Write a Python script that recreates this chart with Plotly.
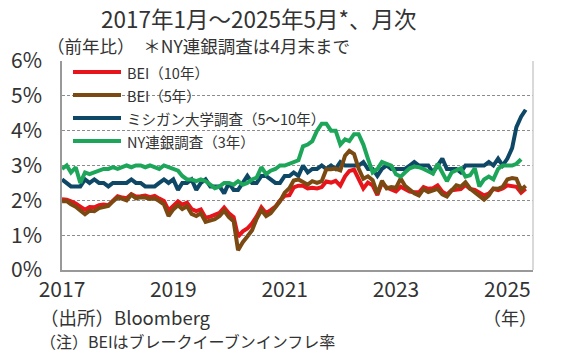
import pandas as pd
import plotly.graph_objects as go

# ---- data (monthly, from Jan 2017) ----
start_month = "2017-01-01"

bei10 = [
    2.03, 2.02, 1.97, 1.91, 1.82, 1.73, 1.81, 1.80, 1.86, 1.88, 1.86, 1.98,
    2.12, 2.08, 2.06, 2.18, 2.11, 2.12, 2.14, 2.09, 2.13, 2.05, 1.98, 1.71,
    1.85, 1.97, 1.88, 1.93, 1.75, 1.69, 1.74, 1.50, 1.53, 1.58, 1.64, 1.79,
    1.63, 1.52, 0.96, 1.11, 1.19, 1.34, 1.54, 1.80, 1.63, 1.72, 1.82, 1.99,
    2.13, 2.15, 2.37, 2.42, 2.42, 2.34, 2.36, 2.34, 2.38, 2.54, 2.51, 2.56,
    2.42, 2.69, 2.84, 2.88, 2.61, 2.34, 2.51, 2.43, 2.15, 2.50, 2.37, 2.30,
    2.26, 2.39, 2.33, 2.25, 2.23, 2.23, 2.38, 2.33, 2.35, 2.43, 2.25, 2.17,
    2.29, 2.31, 2.32, 2.44, 2.33, 2.30, 2.23, 2.14, 2.19, 2.33, 2.29, 2.34,
    2.43, 2.42, 2.39, 2.22, 2.33,
]

bei5 = [
    1.97, 1.98, 1.89, 1.82, 1.71, 1.60, 1.70, 1.69, 1.78, 1.81, 1.84, 1.97,
    2.08, 2.04, 2.00, 2.16, 2.06, 2.09, 2.08, 2.04, 2.06, 1.98, 1.88, 1.55,
    1.74, 1.86, 1.75, 1.83, 1.61, 1.55, 1.63, 1.38, 1.43, 1.46, 1.55, 1.70,
    1.52, 1.40, 0.57, 0.80, 0.96, 1.14, 1.47, 1.72, 1.55, 1.63, 1.80, 1.97,
    2.22, 2.35, 2.57, 2.60, 2.53, 2.45, 2.55, 2.50, 2.55, 2.89, 2.89, 2.91,
    2.86, 3.28, 3.42, 3.33, 2.91, 2.62, 2.69, 2.58, 2.19, 2.56, 2.34, 2.38,
    2.36, 2.63, 2.42, 2.29, 2.20, 2.14, 2.32, 2.24, 2.28, 2.33, 2.17, 2.11,
    2.28, 2.43, 2.39, 2.52, 2.34, 2.23, 2.11, 2.02, 2.14, 2.34, 2.33, 2.39,
    2.60, 2.64, 2.62, 2.30, 2.42,
]

michigan = [
    2.6, 2.5, 2.4, 2.4, 2.4, 2.6, 2.5, 2.6, 2.5, 2.5, 2.4, 2.5,
    2.5, 2.5, 2.5, 2.6, 2.5, 2.5, 2.4, 2.4, 2.4, 2.5, 2.6, 2.5,
    2.6, 2.3, 2.5, 2.5, 2.6, 2.3, 2.5, 2.6, 2.4, 2.4, 2.4, 2.2,
    2.5, 2.3, 2.3, 2.5, 2.7, 2.5, 2.5, 2.7, 2.7, 2.6, 2.5, 2.5,
    2.7, 2.7, 2.8, 2.7, 3.0, 2.8, 2.9, 2.9, 3.0, 2.9, 3.0, 2.9,
    3.1, 3.0, 3.0, 3.0, 3.0, 3.1, 2.9, 2.9, 2.7, 2.9, 3.0, 2.9,
    2.9, 2.9, 2.9, 3.0, 3.1, 3.0, 3.0, 3.0, 2.8, 3.0, 3.2, 2.9,
    2.9, 2.9, 2.8, 3.0, 3.0, 3.0, 3.0, 3.0, 3.1, 3.0, 3.2, 3.0,
    3.2, 3.5, 4.1, 4.4, 4.6,
]

ny_fed = [
    2.9, 3.0, 2.8, 2.95, 2.5, 2.8, 2.75, 2.8, 2.85, 2.9, 2.9, 2.95,
    2.9, 2.95, 3.0, 2.95, 3.0, 3.0, 2.95, 3.0, 2.95, 2.9, 3.0, 2.95,
    2.9, 2.85, 2.7, 2.6, 2.6, 2.55, 2.6, 2.55, 2.45, 2.35, 2.4, 2.5,
    2.5, 2.45, 2.55, 2.45, 2.5, 2.6, 2.65, 2.95, 2.75, 2.85, 2.9, 3.0,
    3.0, 3.05, 3.1, 3.15, 3.55, 3.6, 3.7, 4.0, 4.2, 4.2, 4.0, 4.0,
    3.6, 3.75, 3.7, 3.9, 3.9, 3.6, 3.2, 2.8, 2.9, 3.1, 3.05, 3.0,
    2.75, 2.68, 2.8, 2.92, 2.97, 2.95, 2.9, 2.85, 2.77, 3.05, 2.82, 2.55,
    2.8, 2.85, 2.92, 2.68, 2.72, 2.92, 2.4, 2.6, 2.68, 2.6, 2.9, 3.0,
    3.0, 3.0, 3.05, 3.18,
]

series_names = ["BEI（10年）", "BEI（5年）", "ミシガン大学調査（5～10年）", "NY連銀調査（3年）"]
series_colors = ["#E8141B", "#7B4A12", "#0E4866", "#1DA65A"]
y_ticks = [0, 1, 2, 3, 4, 5, 6]
y_tick_labels = ["0%", "1%", "2%", "3%", "4%", "5%", "6%"]
x_tick_years = ["2017", "2019", "2021", "2023", "2025"]

title_text = "2017年1月～2025年5月*、月次"
subtitle_text = "（前年比）　＊NY連銀調査は4月末まで"
note_source = "（出所）Bloomberg"
note_bei = "（注）BEIはブレークイーブンインフレ率"
x_unit = "（年）"

FONT = "Noto Sans CJK JP"
TXT = "#333333"

all_series = [bei10, bei5, michigan, ny_fed]

fig = go.Figure()
# draw order: Michigan, BEI10, BEI5, NY on top
for idx in [2, 0, 1, 3]:
    vals = all_series[idx]
    dates = pd.date_range(start_month, periods=len(vals), freq="MS")
    fig.add_trace(go.Scatter(
        x=dates, y=vals, mode="lines", name=series_names[idx],
        line=dict(color=series_colors[idx], width=4),
        showlegend=False, hoverinfo="skip",
    ))

W, H = 562, 361
PL, PR, PT, PB = 62, 533, 61, 270          # plot box in page pixels
L, T = PL, PT
R, B = W - PR, H - PB
pw, ph = PR - PL, PB - PT

def px_x(px):
    return (px - PL) / pw

def px_y(py):
    return (PB - py) / ph

annotations = []
shapes = []

# manual legend
for i, (name, col) in enumerate(zip(series_names, series_colors)):
    yy = px_y(72 + 23 * i)
    shapes.append(dict(type="line", xref="paper", yref="paper",
                       x0=px_x(73), x1=px_x(121), y0=yy, y1=yy,
                       line=dict(color=col, width=4)))
    annotations.append(dict(text=name, xref="paper", yref="paper",
                            x=px_x(125), y=yy, xanchor="left", yanchor="middle",
                            showarrow=False, font=dict(family=FONT, size=14.5, color=TXT)))

# right border
shapes.append(dict(type="line", xref="paper", yref="paper", x0=1, x1=1, y0=0, y1=1,
                   line=dict(color="#cccccc", width=1.5)))

annotations += [
    dict(text=title_text, xref="paper", yref="paper", x=px_x(258), y=px_y(18),
         xanchor="center", yanchor="middle", showarrow=False,
         font=dict(family=FONT, size=22.5, color=TXT)),
    dict(text=subtitle_text, xref="paper", yref="paper", x=px_x(45), y=px_y(46),
         xanchor="left", yanchor="middle", showarrow=False,
         font=dict(family=FONT, size=17.5, color=TXT)),
    dict(text=note_source, xref="paper", yref="paper", x=px_x(38), y=px_y(317),
         xanchor="left", yanchor="middle", showarrow=False,
         font=dict(family=FONT, size=18.5, color=TXT)),
    dict(text=note_bei, xref="paper", yref="paper", x=px_x(38), y=px_y(341),
         xanchor="left", yanchor="middle", showarrow=False,
         font=dict(family=FONT, size=16, color=TXT)),
    dict(text=x_unit, xref="paper", yref="paper", x=px_x(539), y=px_y(317),
         xanchor="right", yanchor="middle", showarrow=False,
         font=dict(family=FONT, size=18, color=TXT)),
]

fig.update_layout(
    width=W, height=H,
    margin=dict(l=L, r=R, t=T, b=B, pad=0),
    paper_bgcolor="white", plot_bgcolor="white",
    font=dict(family=FONT, color=TXT),
    shapes=shapes, annotations=annotations,
    xaxis=dict(
        type="date", range=["2017-01-01", "2025-06-18"],
        tickvals=[pd.Timestamp(y + "-01-01") for y in x_tick_years],
        ticktext=x_tick_years, automargin=False,
        showgrid=False, showline=True, linecolor="#999999", linewidth=1.5,
        ticks="", tickfont=dict(family=FONT, size=21, color=TXT),
        zeroline=False,
    ),
    yaxis=dict(
        range=[0, 6], tickvals=y_ticks, ticktext=y_tick_labels, automargin=False,
        showgrid=True, gridcolor="#8c8c8c", griddash="3px,2px", gridwidth=1,
        showline=True, linecolor="#999999", linewidth=1.5,
        ticks="", tickfont=dict(family=FONT, size=21, color=TXT),
        zeroline=False, ticklabelstandoff=14,
    ),
)

# remove the page's default body margin so the figure fills the window exactly
fig.write_html("out.html", config={"displayModeBar": False},
               post_script="document.body.style.margin='0';")
